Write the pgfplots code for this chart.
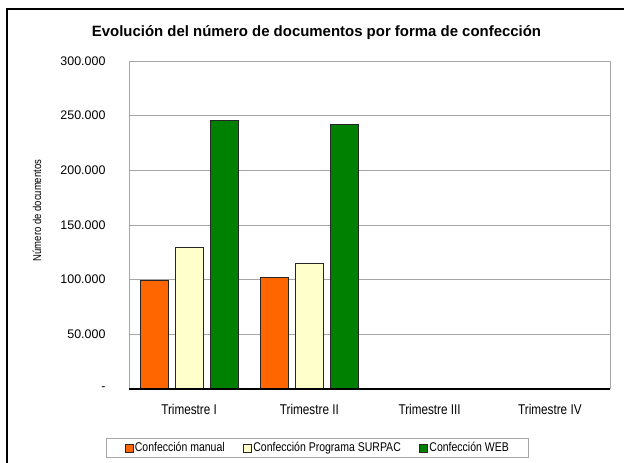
\documentclass[border=0pt]{standalone}
\usepackage{fontspec}
\setmainfont{Liberation Sans}
\newfontfamily\nar[FakeStretch=0.83]{Liberation Sans}
\usepackage{pgfplots}
\pgfplotsset{compat=1.18}
\definecolor{cMan}{HTML}{FF6600}
\definecolor{cSur}{HTML}{FFFFCC}
\definecolor{cWeb}{HTML}{008000}
\definecolor{cGrid}{HTML}{A6A6A6}

\begin{document}
\begin{tikzpicture}[x=1bp,y=1bp]
\begin{axis}[name=ax, scale only axis,
    width=481bp, height=328bp,
    ybar=7bp, bar width=28bp,
    xmin=-0.5, xmax=3.5, ymin=0, ymax=300000,
    xtick={0,1,2,3},
    xticklabels={Trimestre I, Trimestre II, Trimestre III, Trimestre IV},
    ytick={0,50000,100000,150000,200000,250000,300000},
    yticklabels={-, 50.000, 100.000, 150.000, 200.000, 250.000, 300.000},
    scaled y ticks=false,
    major tick length=0pt,
    yticklabel style={xshift=-20bp, font=\fontsize{12.5}{14}\selectfont},
    xticklabel style={yshift=-12bp, font=\nar\fontsize{14.2}{16}\selectfont},
    ymajorgrids, grid style={cGrid, line width=0.8bp},
    axis line style={cGrid, line width=0.9bp},
    axis x line*=bottom, axis y line*=left,
    legend style={at={(0.392,-0.18)}, anchor=center, legend columns=3,
        draw=cGrid, line width=0.6bp, font=\nar\fontsize{12.7}{14}\selectfont,
        inner xsep=18bp, inner ysep=2bp,
        nodes={inner xsep=1.5bp},
        /tikz/every even column/.append style={column sep=17bp}},
    legend image code/.code={\draw[#1, line width=0.6bp] (0bp,-4bp) rectangle (8bp,4bp);},
    ]
\addplot[draw=black!85, fill=cMan, line width=0.9bp] coordinates {(0,99400) (1,102100)};
\addlegendentry{Confección manual}
\addplot[draw=black!85, fill=cSur, line width=0.9bp] coordinates {(0,129500) (1,115200)};
\addlegendentry{Confección Programa SURPAC}
\addplot[draw=black!85, fill=cWeb, line width=0.9bp] coordinates {(0,245900) (1,241600)};
\addlegendentry{Confección WEB}
\end{axis}
\begin{scope}[shift={(ax.south west)}, xshift=-129bp, yshift=-74bp]
\useasboundingbox (0,0) rectangle (624,463);
% chart frame (cut off right and bottom, as in the original)
\draw[line width=1.2bp] (7,0) -- (7,454) -- (624,454);
\node[font=\bfseries\fontsize{15}{17}\selectfont] at (316.5,430) {Evolución del número de documentos por forma de confección};
\node[rotate=90, font=\nar\fontsize{11.5}{13}\selectfont] at (37,252.5) {Número de documentos};
% top and right border of plot area, dark baseline
\draw[cGrid, line width=0.9bp] (129,402) -- (610,402) -- (610,74);
\draw[black, line width=1.1bp] (129,74) -- (610,74);
\end{scope}
\end{tikzpicture}
\end{document}
